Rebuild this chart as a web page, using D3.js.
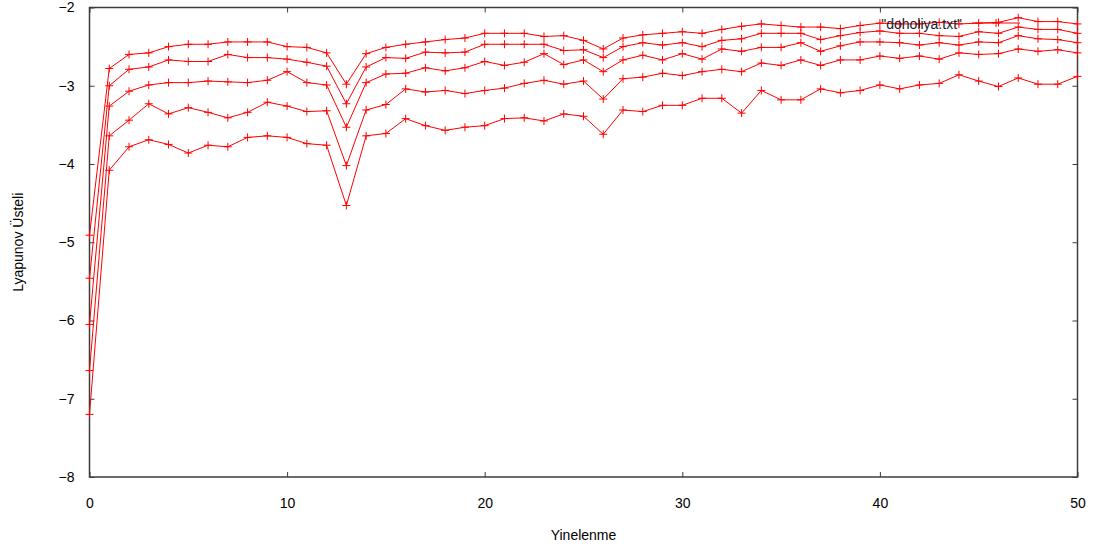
<!DOCTYPE html>
<html>
<head>
<meta charset="utf-8">
<script src="https://cdn.jsdelivr.net/npm/d3@7"></script>
<style>
  html, body { margin: 0; padding: 0; background: #fff; }
  svg { display: block; font-family: "Liberation Sans", Arial, sans-serif; }
</style>
</head>
<body>
<svg id="chart" width="1096" height="551"></svg>
<script>
// Iteration index 0..50
const iterations = d3.range(0, 51);

// Lyapunov exponent estimates, one array per curve (top to bottom)
const seriesA = [-4.91, -2.78, -2.60, -2.58, -2.50, -2.47, -2.47, -2.44, -2.44, -2.44,
                 -2.50, -2.51, -2.58, -2.98, -2.59, -2.51, -2.47, -2.44, -2.41, -2.39,
                 -2.33, -2.33, -2.33, -2.37, -2.36, -2.42, -2.53, -2.39, -2.35, -2.33,
                 -2.31, -2.33, -2.28, -2.24, -2.21, -2.23, -2.25, -2.25, -2.27, -2.23,
                 -2.20, -2.21, -2.21, -2.19, -2.21, -2.20, -2.19, -2.13, -2.18, -2.18,
                 -2.21];
const seriesB = [-5.46, -3.00, -2.79, -2.76, -2.67, -2.69, -2.69, -2.60, -2.64, -2.64,
                 -2.66, -2.70, -2.75, -3.23, -2.76, -2.64, -2.65, -2.57, -2.58, -2.57,
                 -2.47, -2.47, -2.47, -2.47, -2.55, -2.54, -2.64, -2.50, -2.45, -2.48,
                 -2.45, -2.50, -2.42, -2.40, -2.33, -2.33, -2.33, -2.41, -2.36, -2.32,
                 -2.30, -2.33, -2.33, -2.36, -2.37, -2.31, -2.33, -2.25, -2.28, -2.28,
                 -2.33];
const seriesC = [-6.05, -3.26, -3.07, -2.99, -2.96, -2.96, -2.94, -2.95, -2.96, -2.93,
                 -2.82, -2.96, -2.99, -3.53, -2.96, -2.85, -2.84, -2.77, -2.81, -2.77,
                 -2.69, -2.74, -2.70, -2.59, -2.73, -2.67, -2.82, -2.67, -2.61, -2.67,
                 -2.59, -2.66, -2.53, -2.56, -2.51, -2.51, -2.45, -2.56, -2.49, -2.44,
                 -2.44, -2.45, -2.48, -2.45, -2.48, -2.44, -2.45, -2.36, -2.40, -2.41,
                 -2.45];
const seriesD = [-6.64, -3.64, -3.44, -3.23, -3.36, -3.28, -3.34, -3.41, -3.34, -3.21,
                 -3.26, -3.33, -3.32, -4.02, -3.31, -3.24, -3.04, -3.08, -3.06, -3.10,
                 -3.06, -3.03, -2.97, -2.93, -2.98, -2.94, -3.17, -2.91, -2.89, -2.84,
                 -2.87, -2.82, -2.79, -2.82, -2.71, -2.74, -2.67, -2.74, -2.67, -2.67,
                 -2.62, -2.65, -2.62, -2.66, -2.58, -2.60, -2.59, -2.53, -2.56, -2.54,
                 -2.58];
const seriesE = [-7.20, -4.08, -3.78, -3.69, -3.75, -3.86, -3.76, -3.78, -3.66, -3.64,
                 -3.66, -3.74, -3.76, -4.53, -3.64, -3.61, -3.42, -3.51, -3.57, -3.53,
                 -3.51, -3.42, -3.41, -3.45, -3.36, -3.39, -3.62, -3.31, -3.33, -3.25,
                 -3.25, -3.16, -3.16, -3.35, -3.06, -3.18, -3.18, -3.04, -3.09, -3.06,
                 -2.99, -3.04, -2.99, -2.97, -2.86, -2.94, -3.01, -2.90, -2.98, -2.98,
                 -2.88];

const allSeries = [seriesA, seriesB, seriesC, seriesD, seriesE];

const xTicks = [0, 10, 20, 30, 40, 50];
const yTicks = [-2, -3, -4, -5, -6, -7, -8];
const xLabel = "Yinelenme";
const yLabel = "Lyapunov Üsteli";
const keyLabel = "\"doholiya.txt\"";

const margin = { left: 89.5, right: 1096 - 1077.5, top: 7.5, bottom: 551 - 477 };
const width = 1096, height = 551;

const svg = d3.select("#chart");

const x = d3.scaleLinear().domain([0, 50]).range([margin.left, width - margin.right]);
const y = d3.scaleLinear().domain([-8, -2]).range([height - margin.bottom, margin.top]);

const frameColor = "#3c3c3c";
const tickLen = 5;
const fontStack = "\"Liberation Sans\", Arial, sans-serif";

// Axes with inward ticks on all four sides (mirrored)
const axisStyle = g => {
  g.select(".domain").remove();
  g.selectAll(".tick line").attr("stroke", frameColor).attr("stroke-width", 1);
  g.selectAll(".tick text").attr("fill", "#000").attr("font-size", 14)
    .attr("font-family", fontStack);
};

svg.append("g")
  .attr("transform", `translate(0,${y(-8)})`)
  .call(d3.axisBottom(x).tickValues(xTicks).tickSize(-tickLen).tickPadding(21).tickFormat(d3.format("d")))
  .call(axisStyle);

svg.append("g")
  .attr("transform", `translate(0,${y(-2)})`)
  .call(d3.axisTop(x).tickValues(xTicks).tickSize(-tickLen).tickFormat(""))
  .call(axisStyle);

svg.append("g")
  .attr("transform", `translate(${x(0)},0)`)
  .call(d3.axisLeft(y).tickValues(yTicks).tickSize(-tickLen).tickPadding(15).tickFormat(d3.format("d")))
  .call(axisStyle);

svg.append("g")
  .attr("transform", `translate(${x(50)},0)`)
  .call(d3.axisRight(y).tickValues(yTicks).tickSize(-tickLen).tickFormat(""))
  .call(axisStyle);

// Plot frame
svg.append("rect")
  .attr("x", x(0)).attr("y", y(-2))
  .attr("width", x(50) - x(0)).attr("height", y(-8) - y(-2))
  .attr("fill", "none").attr("stroke", frameColor).attr("stroke-width", 1.5);

// Curves
const line = d3.line().x((d, i) => x(iterations[i])).y(d => y(d));
const markSize = 4;

const curves = svg.append("g");
allSeries.forEach(vals => {
  curves.append("path")
    .datum(vals)
    .attr("d", line)
    .attr("fill", "none")
    .attr("stroke", "#ff0000")
    .attr("stroke-width", 1);
  curves.append("g").selectAll("path")
    .data(vals)
    .join("path")
    .attr("d", (d, i) => {
      const cx = x(iterations[i]), cy = y(d);
      return `M${cx - markSize},${cy}H${cx + markSize}M${cx},${cy - markSize}V${cy + markSize}`;
    })
    .attr("stroke", "#ff0000")
    .attr("stroke-width", 1);
});

// Key
const keyY = 25;
svg.append("text")
  .attr("x", 962).attr("y", keyY)
  .attr("text-anchor", "end").attr("dominant-baseline", "middle")
  .attr("font-size", 14).attr("font-family", fontStack).attr("fill", "#1a1a2a")
  .text(keyLabel);
svg.append("path")
  .attr("d", `M${972},${keyY - 2}H${1020}M${996 - markSize},${keyY - 2}H${996 + markSize}M${996},${keyY - 2 - markSize}V${keyY - 2 + markSize}`)
  .attr("stroke", "#ff0000").attr("stroke-width", 1).attr("fill", "none");

// Axis titles
svg.append("text")
  .attr("x", (x(0) + x(50)) / 2).attr("y", 540)
  .attr("text-anchor", "middle")
  .attr("font-size", 14).attr("font-family", fontStack).attr("fill", "#000")
  .text(xLabel);

svg.append("text")
  .attr("transform", `translate(23,${(y(-2) + y(-8)) / 2}) rotate(-90)`)
  .attr("text-anchor", "middle")
  .attr("font-size", 14).attr("font-family", fontStack).attr("fill", "#000")
  .text(yLabel);
</script>
</body>
</html>
